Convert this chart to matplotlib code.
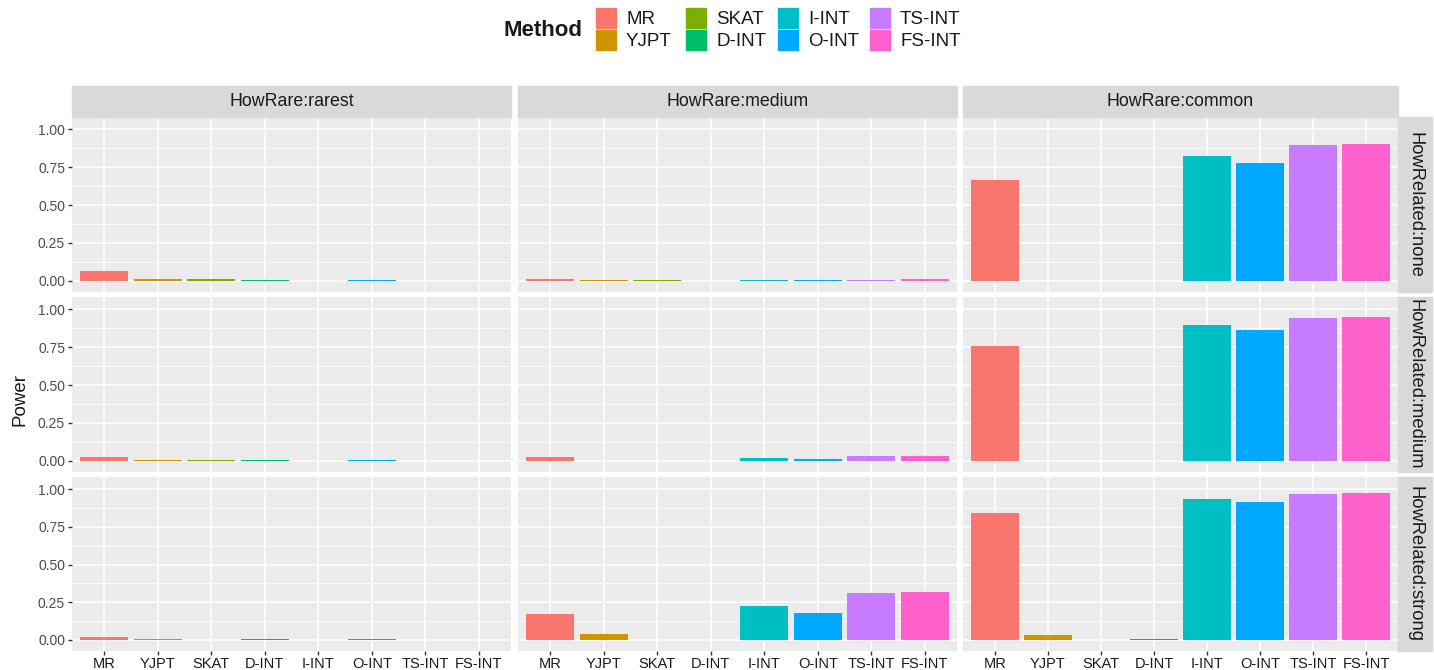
import numpy as np
import matplotlib.pyplot as plt
from matplotlib.patches import Rectangle

plt.rcParams['font.family'] = ['Liberation Sans', 'DejaVu Sans']

methods = ["MR", "YJPT", "SKAT", "D-INT", "I-INT", "O-INT", "TS-INT", "FS-INT"]
colors = ["#F8766D", "#CD9600", "#7CAE00", "#00BE67",
          "#00BFC4", "#00A9FF", "#C77CFF", "#FF61CC"]
how_rare = ["rarest", "medium", "common"]
how_related = ["none", "medium", "strong"]

# power per (HowRelated, HowRare) panel, one value per method
power_none_rarest = [0.065, 0.015, 0.015, 0.008, 0.0, 0.008, 0.0, 0.0]
power_none_medium = [0.015, 0.003, 0.003, 0.0, 0.007, 0.004, 0.008, 0.012]
power_none_common = [0.665, 0.0, 0.0, 0.0, 0.825, 0.775, 0.895, 0.90]
power_medium_rarest = [0.028, 0.006, 0.006, 0.003, 0.0, 0.003, 0.0, 0.0]
power_medium_medium = [0.028, 0.002, 0.0, 0.0, 0.016, 0.01, 0.032, 0.032]
power_medium_common = [0.755, 0.002, 0.0, 0.0, 0.895, 0.86, 0.94, 0.95]
power_strong_rarest = [0.022, 0.005, 0.003, 0.006, 0.003, 0.006, 0.003, 0.003]
power_strong_medium = [0.17, 0.042, 0.0, 0.003, 0.228, 0.18, 0.31, 0.32]
power_strong_common = [0.84, 0.035, 0.0, 0.006, 0.935, 0.915, 0.97, 0.975]

data = {
    ("none", "rarest"): power_none_rarest,
    ("none", "medium"): power_none_medium,
    ("none", "common"): power_none_common,
    ("medium", "rarest"): power_medium_rarest,
    ("medium", "medium"): power_medium_medium,
    ("medium", "common"): power_medium_common,
    ("strong", "rarest"): power_strong_rarest,
    ("strong", "medium"): power_strong_medium,
    ("strong", "common"): power_strong_common,
}

W, H = 1434, 670
fig = plt.figure(figsize=(W / 100, H / 100), dpi=100)


def px(x0, y0, x1, y1):
    # pixel box (top-left origin) -> figure fraction rect
    return [x0 / W, 1 - y1 / H, (x1 - x0) / W, (y1 - y0) / H]


col_x = [(72, 511), (518, 957), (963, 1398)]
row_y = [(117, 292), (297, 472), (477, 651)]
x = np.arange(len(methods))

for r, rel in enumerate(how_related):
    for c, rare in enumerate(how_rare):
        ax = fig.add_axes(px(col_x[c][0], row_y[r][0], col_x[c][1], row_y[r][1]))
        ax.set_facecolor("#EBEBEB")
        ax.bar(x, data[(rel, rare)], 0.9, color=colors, zorder=3)
        ax.set_xlim(-0.6, len(methods) - 0.4)
        ax.set_ylim(-0.073, 1.08)
        ax.set_yticks([0, 0.25, 0.5, 0.75, 1.0])
        ax.set_yticks([0.125, 0.375, 0.625, 0.875], minor=True)
        ax.set_xticks(x)
        ax.grid(True, which="major", color="white", lw=1.1, zorder=0)
        ax.grid(True, which="minor", axis="y", color="white", lw=0.55, zorder=0)
        for s in ax.spines.values():
            s.set_visible(False)
        ax.tick_params(which="minor", length=0)
        ax.tick_params(which="major", length=3, color="#333333", width=1)
        if c == 0:
            ax.set_yticklabels(["0.00", "0.25", "0.50", "0.75", "1.00"],
                               fontsize=10, color="#4D4D4D")
            ax.tick_params(axis="y", pad=2)
        else:
            ax.tick_params(axis="y", length=0, labelleft=False)
        if r == 2:
            ax.set_xticklabels(methods, fontsize=10.5, color="#1A1A1A")
            ax.tick_params(axis="x", pad=1.5)
        else:
            ax.tick_params(axis="x", length=0, labelbottom=False)

# top strips
for c, rare in enumerate(how_rare):
    x0, x1 = col_x[c]
    fig.patches.append(Rectangle((x0 / W, 1 - 117 / H), (x1 - x0) / W, 31 / H,
                                 transform=fig.transFigure, color="#D9D9D9"))
    fig.text((x0 + x1) / 2 / W, 1 - 102 / H, "HowRare:" + rare,
             ha="center", va="center", fontsize=12.8, color="#1A1A1A")

# right strips
for r, rel in enumerate(how_related):
    y0, y1 = row_y[r]
    fig.patches.append(Rectangle((1398 / W, 1 - y1 / H), 34 / W, (y1 - y0) / H,
                                 transform=fig.transFigure, color="#D9D9D9"))
    fig.text(1415 / W, 1 - (y0 + y1) / 2 / H, "HowRelated:" + rel,
             ha="center", va="center", rotation=-90, fontsize=13.2,
             color="#1A1A1A")

fig.text(20 / W, 1 - 400 / H, "Power", rotation=90, ha="center", va="center",
         fontsize=13.5, color="#1A1A1A")

# legend
fig.text(543 / W, 1 - 30 / H, "Method", ha="center", va="center",
         fontsize=16, fontweight="bold", color="#1A1A1A")
key_x = [596, 686, 778, 870]
for i, (m, col) in enumerate(zip(methods, colors)):
    kx = key_x[i // 2]
    ky = 8 if i % 2 == 0 else 30
    fig.patches.append(Rectangle((kx / W, 1 - (ky + 20) / H), 20 / W, 20 / H,
                                 transform=fig.transFigure, color=col))
    fig.text((kx + 30) / W, 1 - (ky + 11) / H, m, ha="left", va="center",
             fontsize=13.5, color="#1A1A1A")

fig.savefig("out.png", dpi=100)
